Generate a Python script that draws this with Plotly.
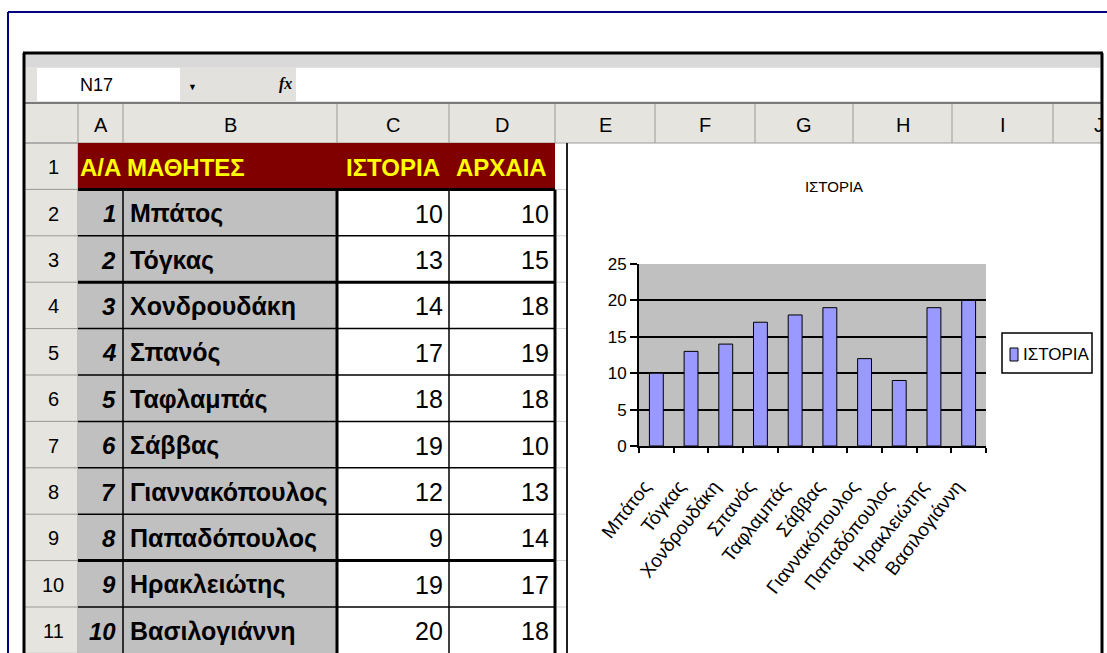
import plotly.graph_objects as go

W, H = 1107, 653

# ---------------- data ----------------
students = ["Μπάτος", "Τόγκας", "Χονδρουδάκη", "Σπανός", "Ταφλαμπάς",
            "Σάββας", "Γιαννακόπουλος", "Παπαδόπουλος", "Ηρακλειώτης", "Βασιλογιάννη"]
history = [10, 13, 14, 17, 18, 19, 12, 9, 19, 20]
ancient = [10, 15, 18, 19, 18, 10, 13, 14, 17, 18]
aa = list(range(1, 11))
header_cells = ["Α/Α", "ΜΑΘΗΤΕΣ", "ΙΣΤΟΡΙΑ", "ΑΡΧΑΙΑ"]
col_letters = ["A", "B", "C", "D", "E", "F", "G", "H", "I", "J"]
row_labels = [str(i) for i in range(1, 12)]
chart_title = "ΙΣΤΟΡΙΑ"
series_name = "ΙΣΤΟΡΙΑ"
name_box = "N17"
y_ticks = [0, 5, 10, 15, 20, 25]

# ---------------- geometry helpers ----------------
def px(x):
    return x / W

def py(y):
    return 1 - y / H

SANS = "Liberation Sans, Arial, DejaVu Sans, sans-serif"

col_edges = [24, 78, 123, 337, 449, 555, 655, 755, 853, 952, 1053, 1102]
ROW_TOP, ROW_H = 143, 46.4
HDR_TOP, HDR_BOT = 104, 143
BOTTOM = 670

shapes = []

def rect(x0, y0, x1, y1, fill, lw=0, lc=None):
    shapes.append(dict(type="rect", xref="paper", yref="paper",
                       x0=px(x0), x1=px(x1), y0=py(y1), y1=py(y0),
                       fillcolor=fill, line=dict(width=lw, color=lc or fill),
                       layer="below"))

def line(x0, y0, x1, y1, color, w):
    shapes.append(dict(type="line", xref="paper", yref="paper",
                       x0=px(x0), x1=px(x1), y0=py(y0), y1=py(y1),
                       line=dict(color=color, width=w), layer="below"))

# formula bar area
rect(25, 54, 1101, 67, "#d9d9d9")
rect(25, 67, 1101, 103, "#e2e1de")
rect(37, 68, 180, 101, "white")
rect(296, 68, 1100, 101, "white")
line(25, 103, 1101, 103, "#7a7a7a", 2)

# headers
rect(25, HDR_TOP, 1101, HDR_BOT, "#e6e4de")
rect(25, HDR_BOT, 78, BOTTOM, "#e6e4de")
for e in col_edges[1:-1]:
    line(e, HDR_TOP, e, HDR_BOT, "#9a9a9a", 1)
line(25, HDR_BOT, 1101, HDR_BOT, "#9a9a9a", 1)
for r in range(12):
    yy = ROW_TOP + r * ROW_H
    line(25, yy, 78, yy, "#9a9a9a", 1)
line(78, HDR_BOT, 78, BOTTOM, "#9a9a9a", 1)

# cells
rect(78, ROW_TOP, 555, ROW_TOP + ROW_H, "#800000")
rect(78, ROW_TOP + ROW_H, 337, BOTTOM, "#c0c0c0")
for r in range(1, 11):
    yy = ROW_TOP + r * ROW_H
    w = 3 if r in (1, 3, 9) else 1.5
    line(78, yy, 555, yy, "black", w)
line(123, ROW_TOP + ROW_H, 123, BOTTOM, "black", 1.5)
line(337, ROW_TOP + ROW_H, 337, BOTTOM, "black", 3)
line(449, ROW_TOP + ROW_H, 449, BOTTOM, "black", 1.5)
line(555, ROW_TOP + ROW_H, 555, BOTTOM, "black", 3)
for r in range(12):
    yy = ROW_TOP + r * ROW_H
    line(557, yy, 567, yy, "#cfcfcf", 1)

# chart object border
line(567, ROW_TOP, 567, BOTTOM, "#202020", 2)

# outer frames
line(23, 53, 1103, 53, "black", 3)
line(24, 53, 24, BOTTOM, "black", 3)
line(1102, 53, 1102, BOTTOM, "black", 3)
line(8, 12, 1107, 12, "#000080", 2)
line(8, 12, 8, H, "#000080", 2)

# legend box (drawn manually to match the Excel legend)
rect(1002, 333, 1092, 373, "white", 1.5, "black")
rect(1010, 348, 1018, 361, "#9999ff", 1, "black")

annotations = []

def text(x, y, s, size, font=SANS, color="black", xanchor="center",
         weight="normal", style="normal"):
    annotations.append(dict(x=px(x), y=py(y), xref="paper", yref="paper",
                            text=s, showarrow=False, xanchor=xanchor,
                            yanchor="middle",
                            font=dict(family=font, size=size, color=color,
                                      weight=weight, style=style)))

text(96, 85, name_box, 18)
text(193, 87, "▼", 9)
text(285, 84, "fx", 16, font="Liberation Serif, serif", weight="bold", style="italic")

for i, letter in enumerate(col_letters):
    cx = (col_edges[i + 1] + col_edges[i + 2]) / 2
    if letter == "J":
        cx = 1099
    text(cx, (HDR_TOP + HDR_BOT) / 2 + 1, letter, 20)

for i, lab in enumerate(row_labels):
    text(53, ROW_TOP + (i + 0.5) * ROW_H + 1, lab, 20)

hdr_x = [100, 125, 393, 501]
hdr_anchor = ["center", "left", "center", "center"]
for s, x, a in zip(header_cells, hdr_x, hdr_anchor):
    text(x, ROW_TOP + 0.5 * ROW_H + 1, s, 24, color="#ffff00", xanchor=a, weight="bold")

for i in range(len(students)):
    cy = ROW_TOP + (i + 1.5) * ROW_H + 1
    text(118, cy, str(aa[i]), 24, xanchor="right", weight="bold", style="italic")
    text(128, cy, students[i], 25, xanchor="left", weight="bold")
    text(445, cy, str(history[i]), 25, xanchor="right")
    text(551, cy, str(ancient[i]), 25, xanchor="right")

text(1021, 354, series_name, 17, xanchor="left")

# ---------------- chart ----------------
fig = go.Figure()
fig.add_trace(go.Bar(
    x=students, y=history, name=series_name,
    marker=dict(color="#9999ff", line=dict(color="black", width=1)),
    showlegend=False,
))

fig.update_layout(
    template="none",
    width=W, height=H,
    margin=dict(l=0, r=0, t=0, b=0),
    paper_bgcolor="white",
    plot_bgcolor="#c0c0c0",
    bargap=0.6,
    showlegend=False,
    title=dict(text=chart_title, x=px(834), y=py(187), xref="paper", yref="paper",
               xanchor="center", yanchor="middle",
               font=dict(family=SANS, size=15, color="black")),
    xaxis=dict(domain=[px(639), px(986)], type="category",
               showline=True, linecolor="black", linewidth=2,
               ticks="outside", tickson="boundaries", ticklen=5,
               tickcolor="black", tickwidth=1.5,
               tickangle=-52, ticklabelstandoff=20, ticklabelshift=-12,
               showgrid=False, automargin=False,
               tickfont=dict(family=SANS, size=19, color="black")),
    yaxis=dict(domain=[py(446), py(264)], range=[0, 25], tickvals=y_ticks,
               showgrid=True, gridcolor="black", gridwidth=2,
               showline=True, linecolor="black", linewidth=2,
               ticks="outside", ticklen=7, tickcolor="black", tickwidth=1.5,
               zeroline=False, automargin=False,
               tickfont=dict(family=SANS, size=17, color="black")),
    shapes=shapes,
    annotations=annotations,
)

fig.write_html("out.html", config={"displayModeBar": False},
               post_script="document.body.style.margin='0';document.body.style.overflow='hidden';")
